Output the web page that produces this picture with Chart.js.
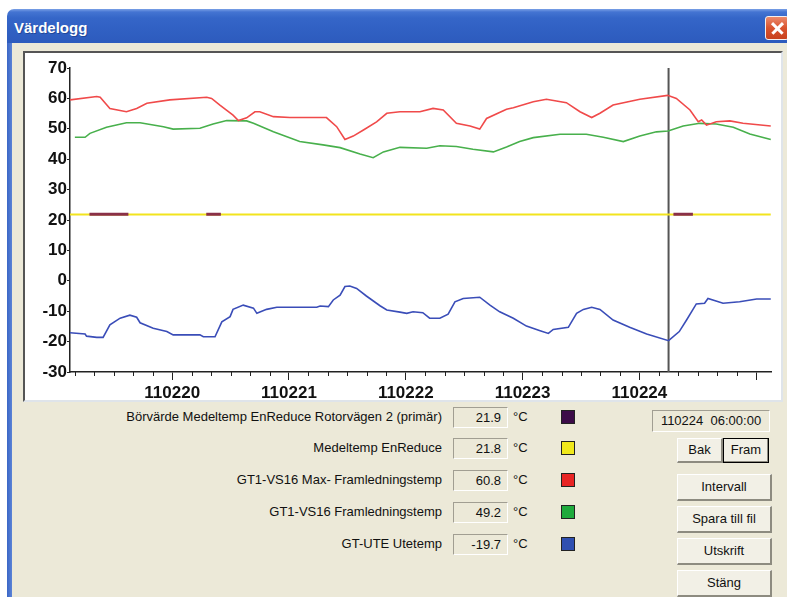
<!DOCTYPE html>
<html>
<head>
<meta charset="utf-8">
<script src="https://cdn.jsdelivr.net/npm/chart.js@4.4.1/dist/chart.umd.min.js"></script>
<style>
body { margin:0; width:787px; height:597px; overflow:hidden; background:#fff; font-family:'Liberation Sans', Arial, sans-serif; }
.abs { position:absolute; }
#titlebar { left:7px; top:9px; width:800px; height:34px; border-radius:7px 7px 0 0;
  background:linear-gradient(to bottom,#7aa0e6 0,#4474d2 3px,#3566c8 9px,#3161c4 55%,#2d5bbd 100%); }
#title { left:14px; top:19px; color:#fff; font-weight:bold; font-size:15px; text-shadow:1px 1px 0 #21479a; }
#close { left:765px; top:16px; width:24px; height:24px; border:1px solid #f4f0ee; border-radius:3px;
  background:linear-gradient(to bottom,#ec8a6c,#d9532e 50%,#c8421f); box-sizing:border-box; }
#close:before, #close:after { content:''; position:absolute; left:4px; top:10px; width:15px; height:2.5px; background:#fff; }
#close:before { transform:rotate(45deg); } #close:after { transform:rotate(-45deg); }
#frameL { left:7px; top:43px; width:5px; height:560px; background:linear-gradient(to right,#3a66c6,#5b83d6); }
#client { left:12px; top:43px; width:780px; height:560px; background:#ECE9D8; }
#panel { left:23px; top:51px; width:760px; height:351px; box-sizing:border-box; background:#fff;
  border-top:2px solid #555; border-left:2px solid #555; border-right:2px solid #dfe4ea; border-bottom:2px solid #dfe4ea; }
#chart { position:absolute; left:0; top:0; }
.lbl { left:0; width:442px; text-align:right; font-size:13px; line-height:16px; color:#111; }
.val { left:453px; width:55px; height:21px; box-sizing:border-box; border-top:1px solid #a19e92; border-left:1px solid #a19e92;
  border-right:1px solid #fff; border-bottom:1px solid #fff; font-size:13px; line-height:19px; text-align:right; padding-right:6px; color:#111; }
.unit { left:513px; font-size:13px; line-height:16px; color:#111; }
.sw { left:561px; width:14px; height:14px; box-sizing:border-box; border:1px solid #222; }
.btn { box-sizing:border-box; font-size:13px; text-align:center; color:#111; background:#f2f0e6;
  border-top:1px solid #fff; border-left:1px solid #fff; border-right:2px solid #8d8b80; border-bottom:2px solid #8d8b80; }
#date { left:652px; top:410px; width:118px; height:22px; box-sizing:border-box; border-top:1px solid #a19e92; border-left:1px solid #a19e92;
  border-right:1px solid #fff; border-bottom:1px solid #fff; font-size:13px; line-height:20px; text-align:center; color:#111; }
</style>
</head>
<body>
<div id="titlebar" class="abs"></div>
<div id="title" class="abs">Värdelogg</div>
<div id="close" class="abs"></div>
<div id="frameL" class="abs"></div>
<div id="client" class="abs"></div>
<div id="panel" class="abs"><canvas id="chart" width="756" height="347"></canvas></div>
<div id="legend"></div>
<div id="date" class="abs">110224&nbsp; 06:00:00</div>
<div class="abs btn" style="left:677px;top:438px;width:46px;height:25px;line-height:22px;">Bak</div>
<div class="abs btn" style="left:723px;top:438px;width:46px;height:25px;line-height:21px;border:1px solid #000;box-shadow:inset -1px -1px 0 #8d8b80;">Fram</div>
<div class="abs btn" style="left:677px;top:474px;width:95px;height:27px;line-height:24px;">Intervall</div>
<div class="abs btn" style="left:677px;top:506px;width:95px;height:27px;line-height:24px;">Spara till fil</div>
<div class="abs btn" style="left:677px;top:538px;width:95px;height:27px;line-height:24px;">Utskrift</div>
<div class="abs btn" style="left:677px;top:570px;width:95px;height:27px;line-height:24px;">Stäng</div>
<script>
// x = hours from 110220 00:00
const dayLabels = ['110220', '110221', '110222', '110223', '110224'];
const cursorHour = 102;

const seriesNames = ['Börvärde Medeltemp EnReduce Rotorvägen 2 (primär)', 'Medeltemp EnReduce',
  'GT1-VS16 Max- Framledningstemp', 'GT1-VS16 Framledningstemp', 'GT-UTE Utetemp'];
const cursorValues = ['21.9', '21.8', '60.8', '49.2', '-19.7'];
const seriesColors = ['#8a3048', '#f2e41e', '#f04a4a', '#48b04c', '#3a4db8'];
const swatchColors = ['#3c0c48', '#f0e81c', '#e82424', '#1eaa3c', '#2f4fb0'];

const setpointHours = [-17, -9, null, 7, 10, null, 103, 107];
const setpointValues = [21.9, 21.9, null, 21.9, 21.9, null, 21.9, 21.9];

const meanHours = [-21, 123];
const meanValues = [21.8, 21.8];

const maxHours = [-21, -15.5, -14.8, -12.8, -9.4, -7.3, -5.2, -0.5, 7.1, 8.1, 9.8, 12.5, 13.6, 15.3, 17, 18, 20.8, 24.2,
  31.7, 33.8, 35.5, 37.2, 39.3, 42, 44.1, 46.8, 50.9, 53.6, 55.7, 58.4, 61.2, 63.2, 64.6, 68.7, 70.1, 74.2, 76.9,
  81, 83.8, 86.2, 87.9, 90.6, 96.1, 101.8, 103.6, 106.4, 108.1, 108.8, 109.8, 111.8, 114.6, 117.3, 123];
const maxValues = [59.5, 60.6, 60.4, 56.7, 55.6, 56.7, 58.4, 59.5, 60.4, 60, 57.8, 54.5, 52.7, 53.6, 55.6, 55.6, 54, 53.7,
  53.7, 50.7, 46.5, 47.6, 49.6, 52.3, 55.1, 55.6, 55.6, 56.7, 56.2, 51.8, 50.9, 49.9, 53.4, 56.4, 56.9, 58.9, 59.7,
  58.6, 55.6, 53.7, 55.1, 57.8, 59.7, 61.0, 60, 56.2, 52.3, 52.9, 51.2, 52.3, 52.6, 51.8, 50.9];

const flowHours = [-20, -17.9, -16.9, -13.5, -9.4, -6.6, -1.8, 0.2, 5.7, 8.4, 11.2, 15.3, 16.7, 20.8, 26.2, 31, 34.5,
  38.6, 41.3, 43.4, 46.8, 52.3, 55, 58.4, 61.8, 66, 68.7, 71.4, 74.2, 79.7, 85.1, 88.6, 92.7, 96.1, 99.5, 101.9,
  105, 108.4, 111.8, 115.3, 118.7, 123];
const flowValues = [47.2, 47.2, 48.5, 50.5, 52, 52, 50.7, 49.9, 50.2, 51.6, 52.7, 52.6, 51.8, 49, 45.8, 44.7, 43.8,
  41.7, 40.5, 42.4, 43.9, 43.6, 44.4, 44.2, 43.3, 42.4, 44, 45.8, 47.1, 48.2, 48.2, 47.2, 45.8, 47.6, 49, 49.3,
  50.9, 51.8, 51.6, 50.5, 48.3, 46.5];

const outHours = [-21, -17.9, -17.6, -15.5, -14.2, -12.8, -10.7, -8.7, -7.3, -6.6, -3.9, -1.1, 0.2, 5.7, 6.4, 8.8,
  10.2, 11.9, 12.5, 14.6, 16.7, 17.4, 19.4, 21.5, 29.7, 30.4, 32.1, 33.1, 34.5, 35.5, 36.5, 37.9, 39.9, 42.7, 44.1,
  46.8, 48.2, 49.5, 51.5, 52.9, 55, 56.7, 58.1, 59.8, 63.2, 65.3, 67.3, 70.1, 72.8, 75.6, 77.3, 78.3, 81.4, 83.1,
  84.5, 86.2, 87.9, 90.6, 94, 97.5, 102, 104.2, 105.7, 107.7, 109.4, 110.1, 113.2, 116.6, 120.1, 123];
const outValues = [-17.1, -17.5, -18.2, -18.6, -18.6, -14.5, -12.3, -11.3, -12, -13.8, -15.6, -16.7, -17.8, -17.8, -18.4, -18.4,
  -13.5, -11.8, -9.4, -8, -9, -10.7, -9.4, -8.7, -8.7, -8.3, -8.5, -6.3, -4.7, -1.9, -1.7, -2.5, -5, -8.2, -9.6,
  -10.3, -10.7, -10.2, -10.5, -12.3, -12.3, -11, -6.9, -5.8, -5.4, -8, -10.2, -12.3, -14.9, -16.4, -17.3, -16, -15.3, -10.7,
  -9.4, -8.7, -9.4, -12.9, -15.3, -17.5, -19.7, -16.7, -12.9, -7.6, -7.4, -5.8, -7.4, -6.9, -6, -6];

function pts(xs, ys) {
  return xs.map((x, i) => (x === null ? { x: NaN, y: null } : { x: x, y: ys[i] }));
}

// legend rows
const legend = document.getElementById('legend');
const rowTops = [417, 448, 480, 512, 544];
seriesNames.forEach((name, i) => {
  const c = rowTops[i];
  legend.insertAdjacentHTML('beforeend',
    `<div class="abs lbl" style="top:${c - 8}px">${name}</div>` +
    `<div class="abs val" style="top:${c - 10}px">${cursorValues[i]}</div>` +
    `<div class="abs unit" style="top:${c - 8}px">°C</div>` +
    `<div class="abs sw" style="top:${c - 7}px;background:${swatchColors[i]}"></div>`);
});

const isMajor = v => Math.abs(v % 24) < 0.001;

// short ticks every 4 h, long ones come from the axis itself
const minorTicks = {
  id: 'minorTicks',
  afterDraw(chart) {
    const sx = chart.scales.x, ctx = chart.ctx, y0 = chart.chartArea.bottom;
    ctx.save();
    ctx.strokeStyle = '#222';
    ctx.lineWidth = 1;
    sx.ticks.forEach(t => {
      if (!isMajor(t.value)) {
        const px = Math.round(sx.getPixelForValue(t.value)) + 0.5;
        ctx.beginPath();
        ctx.moveTo(px, y0);
        ctx.lineTo(px, y0 + 4);
        ctx.stroke();
      }
    });
    ctx.restore();
  }
};

const axisFont = { family: "'Liberation Sans', Arial, sans-serif", size: 17, weight: 'bold' };

new Chart(document.getElementById('chart'), {
  type: 'line',
  data: {
    datasets: [
      { data: pts(setpointHours, setpointValues), borderColor: seriesColors[0], borderWidth: 3, spanGaps: false },
      { data: pts(meanHours, meanValues), borderColor: seriesColors[1], borderWidth: 2 },
      { data: pts(maxHours, maxValues), borderColor: seriesColors[2], borderWidth: 1.6 },
      { data: pts(flowHours, flowValues), borderColor: seriesColors[3], borderWidth: 1.6 },
      { data: pts(outHours, outValues), borderColor: seriesColors[4], borderWidth: 1.6 },
      { data: [{ x: cursorHour, y: -30 }, { x: cursorHour, y: 70 }], borderColor: '#555', borderWidth: 2 }
    ]
  },
  options: {
    responsive: false,
    animation: false,
    devicePixelRatio: 1,
    elements: { point: { radius: 0 }, line: { tension: 0 } },
    layout: { padding: { left: 0, top: 15, right: 10, bottom: 0 } },
    plugins: { legend: { display: false }, tooltip: { enabled: false } },
    scales: {
      x: {
        type: 'linear',
        min: -21,
        max: 123.05,
        afterFit: s => { s.height = 28; },
        grid: {
          drawOnChartArea: false,
          tickLength: 8,
          tickWidth: 1,
          tickColor: c => (c.tick && isMajor(c.tick.value) ? '#222' : 'rgba(0,0,0,0)')
        },
        border: { color: '#222', width: 1.5 },
        ticks: {
          stepSize: 4,
          includeBounds: false,
          autoSkip: false,
          maxRotation: 0,
          maxTicksLimit: 100,
          padding: 3,
          color: '#111',
          font: axisFont,
          callback: v => {
            const d = Math.round(v / 24);
            return isMajor(v) && d >= 0 && d < dayLabels.length ? dayLabels[d] : '';
          }
        }
      },
      y: {
        min: -30,
        max: 70,
        afterFit: s => { s.width = 45; },
        grid: { drawOnChartArea: false, tickLength: 3, tickColor: '#222' },
        border: { color: '#222', width: 1.5 },
        ticks: { stepSize: 10, padding: 0, color: '#111', font: axisFont }
      }
    }
  },
  plugins: [minorTicks]
});
</script>
</body>
</html>
